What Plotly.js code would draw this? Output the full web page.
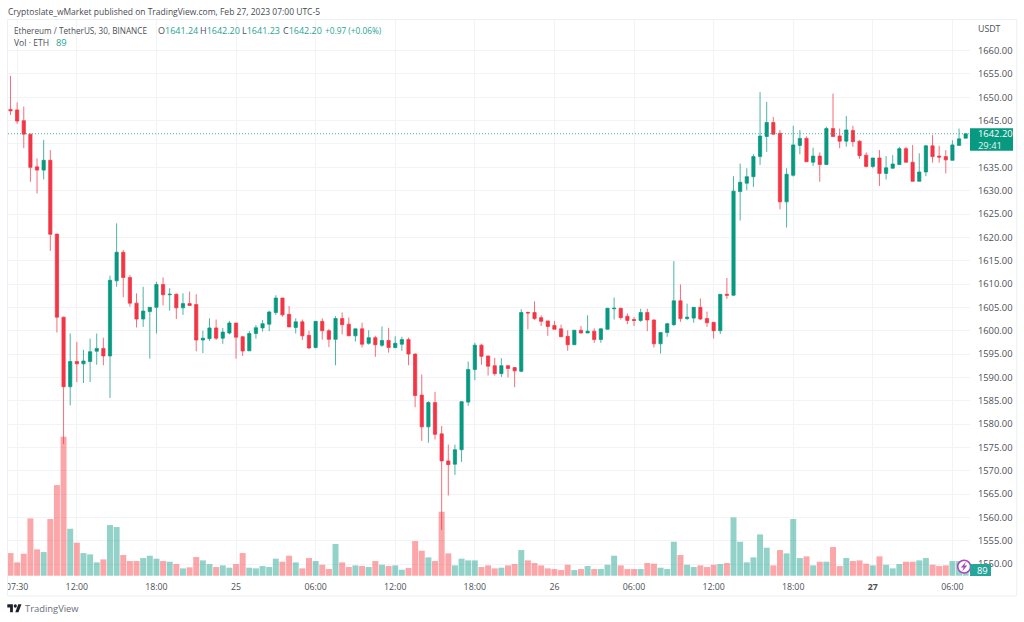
<!DOCTYPE html>
<html>
<head>
<meta charset="utf-8">
<script src="https://cdn.plot.ly/plotly-3.0.1.min.js"></script>
<style>html,body{margin:0;padding:0;background:#fff}#chart{width:1024px;height:622px}</style>
</head>
<body>
<div id="chart"></div>
<script>
const startTime = '2023-02-24T07:00:00Z';
const opens = [1647.4,1647.3,1645,1642.1,1635.1,1634.4,1636.5,1620.7,1602.9,1588,
1593.4,1592.9,1593.4,1595.6,1596.2,1594.6,1610.7,1616.8,1611.4,1605.9,
1602.5,1604.1,1605,1609.9,1607.7,1607.8,1604.9,1605.8,1605.6,1598,
1598.3,1600.6,1598.4,1599.5,1601.65,1598.7,1595.7,1599.4,1600.6,1601.4,
1603.9,1607,1603.5,1600.7,1601.9,1599,1596.4,1602,1600,1598.15,
1602.6,1601.4,1598.9,1600.4,1597.3,1598.5,1596.9,1597.9,1596.4,1597.1,
1598.1,1595,1586.2,1579.4,1584.6,1577.9,1572.1,1571.4,1574.5,1584.7,
1591.7,1596.9,1594.6,1592.5,1590.8,1592.5,1592.1,1591.3,1603.9,1603.9,
1602.8,1602.1,1601.1,1600.4,1598.8,1597,1600.1,1599.5,1599.9,1598.1,
1600.3,1604.7,1604.8,1603.1,1602.4,1602.2,1603.9,1602.3,1597.2,1599.6,
1601.3,1606.4,1602.6,1602.7,1605,1602.6,1601.8,1600,1607.8,1607.6,
1629.8,1631.6,1633,1637.3,1641.6,1644.6,1642.3,1627.6,1633.3,1639.7,
1641.2,1636.1,1637.4,1635.6,1643.3,1641.7,1640.6,1642.9,1640.6,1637.6,
1635.2,1637,1633.7,1634.8,1635.6,1639,1636.1,1632,1634,1639.6,
1637.4,1637.3,1636.5,1639.7,1641.24];
const highs = [1654.6,1648.9,1648,1642.2,1636.9,1640.9,1638.7,1620.8,1603,1599.4,
1597.6,1595.9,1598.3,1599.4,1598.5,1611.8,1623,1617.3,1611.9,1608,
1609.4,1605,1610.5,1611.4,1609.1,1608,1608,1608.4,1607.8,1600,
1602.65,1602.4,1600.6,1602.1,1601.65,1598.9,1599.9,1601.2,1602.3,1604.3,
1607.6,1607,1605.3,1602.65,1602.4,1600,1602,1602.65,1600.4,1603.1,
1603.9,1602.8,1600.4,1601.7,1600.1,1598.9,1600.9,1600.6,1598.8,1598.7,
1598.5,1595.1,1590.6,1584.9,1586.9,1579.6,1575.6,1575.6,1584.9,1593.4,
1597.4,1597.2,1594.6,1594.2,1594.1,1592.6,1592.2,1604.6,1604.1,1606.3,
1603.3,1602.1,1602.1,1601.3,1600.1,1600.1,1601,1603.3,1600.5,1600.5,
1604.9,1607.1,1604.9,1603.7,1602.9,1604.7,1604.7,1602.4,1599.6,1601.7,
1614.9,1609.9,1605.8,1605.1,1606.9,1604.1,1601.8,1607.8,1611.3,1633.1,
1635.8,1634.8,1637.8,1651.1,1649,1645.8,1643,1634.8,1643.9,1643,
1641.6,1639.2,1638.2,1643.7,1650.8,1643.3,1646,1643.9,1640.8,1638.2,
1637,1638.7,1637.4,1637.6,1639.4,1639.4,1639.8,1638,1639.8,1641.9,
1639.6,1638.7,1640.8,1643.3,1642.2];
const lows = [1646.2,1644.3,1639.1,1631.9,1629.4,1632.4,1617.1,1599.6,1575.7,1584,
1589,1588.8,1589,1592.7,1592.6,1585.6,1609.4,1607.2,1605.15,1600.7,
1600.8,1594,1599.4,1605.4,1604.3,1602.5,1603.4,1605.4,1595.6,1595.2,
1597.8,1598,1597.2,1599.2,1594,1594.6,1595.6,1598.3,1599.8,1599.9,
1603.4,1603,1600.8,1599.4,1598,1596.1,1596.2,1598.1,1596.5,1592.6,
1599.2,1598.9,1597.7,1596.4,1597,1594.4,1596.5,1595.3,1596.2,1595.7,
1592.6,1583.6,1576.4,1576,1576.7,1557.3,1564.7,1569.1,1571.9,1583.9,
1589.4,1592.7,1590.4,1590.4,1590.1,1590,1587.9,1591.1,1600.3,1602.3,
1601,1598.9,1600.3,1598.7,1595.7,1597,1599.4,1599.5,1597.4,1597.4,
1600.3,1602.4,1602.4,1601.4,1601,1601.9,1599.9,1596.4,1595.1,1598.7,
1601,1601.9,1602.3,1601.7,1602.3,1600.8,1598.3,1599.3,1606.8,1607.4,
1623.6,1630.1,1630.8,1635.5,1638.3,1641.9,1626,1622.1,1633,1637.8,
1636.2,1635.3,1631.9,1635.5,1641.6,1639.1,1639.4,1639.4,1636.8,1635,
1634.8,1631,1632.4,1634.8,1635.5,1636,1632,1632,1633.1,1636,
1636,1633.7,1636.5,1639.7,1641.23];
const closes = [1647.1,1644.9,1642.1,1635,1634.4,1636.5,1620.65,1602.9,1588,1593.4,
1592.9,1593.5,1595.5,1596.2,1594.6,1610.8,1616.8,1611.4,1605.9,1602.5,
1604.2,1605,1609.9,1607.7,1607.8,1604.9,1605.8,1605.4,1598,1598.4,
1600.6,1598.4,1599.7,1601.65,1598.6,1595.65,1599.4,1600.65,1601.5,1604,
1607,1603.4,1600.8,1601.9,1598.9,1596.3,1602,1600,1598.15,1602.6,
1601.3,1598.9,1600.4,1597.1,1598.5,1597,1597.9,1596.4,1597.3,1598.1,
1595,1586.1,1579.4,1584.6,1577.8,1572.1,1571.3,1574.5,1584.8,1591.7,
1596.9,1594.5,1592.4,1590.8,1592.5,1591.9,1591.4,1603.9,1603.8,1602.6,
1602,1600.9,1600.3,1598.7,1597,1600.1,1599.5,1599.9,1598.1,1600.4,
1604.8,1604.8,1602.8,1602.2,1602.2,1603.9,1602.3,1597.2,1599.6,1601.5,
1606.4,1602.6,1602.9,1605,1602.5,1601.7,1600,1607.8,1607.6,1629.9,
1631.8,1633,1637.3,1641.7,1644.6,1642.1,1627.6,1633.5,1639.8,1641.2,
1636.2,1637.4,1635.6,1643.3,1641.6,1640.6,1643,1640.5,1637.5,1635.2,
1637,1633.7,1634.9,1635.7,1639,1636.1,1632,1634,1639.6,1637.3,
1637.2,1636.6,1639.8,1641.1,1642.2];
const volumes = [340,200,330,860,395,355,850,1360,2085,705,
495,340,320,200,245,760,730,310,220,220,
265,300,255,220,210,175,110,125,280,230,
175,130,155,120,175,340,120,110,145,130,
255,210,300,200,110,265,220,165,100,475,
200,130,155,145,130,220,165,145,155,90,
115,520,375,275,220,960,335,155,255,230,
230,130,155,110,120,155,175,385,230,190,
155,110,100,85,165,85,100,145,100,100,
165,300,155,100,100,100,190,180,120,100,
510,310,165,130,155,130,165,175,190,875,
510,200,275,620,420,155,385,335,850,265,
290,155,210,210,430,145,265,220,230,180,
155,290,165,110,175,210,210,230,265,165,
145,155,220,220,89];
const xTickIndex = [1,10,22,34,46,58,70,82,94,106,118,130,142];
const xTickText = ['07:30','12:00','18:00','25','06:00','12:00','18:00','26','06:00','12:00','18:00','<b>27</b>','06:00'];
const priceTicks = [1550,1555,1560,1565,1570,1575,1580,1585,1590,1595,1600,1605,1610,1615,1620,1625,1630,1635,1640,1645,1650,1655,1660];

const GREEN = '#089981', RED = '#F23645', TEXT = '#4c4f57', TEAL = '#26a592';
const FONT = '"Open Sans", "Noto Sans", sans-serif';
const FS = 8.8, FS_WORDS = 8.2, FS_NUM = 9.4;
const t0 = Date.parse(startTime);
const timeAt = k => new Date(t0 + k * 1800000).toISOString().slice(0, 19);
const times = opens.map((_, k) => timeAt(k));
const barColors = opens.map((o, k) => closes[k] >= o ? 'rgba(8,153,129,0.44)' : 'rgba(247,70,75,0.48)');

const L = 8, R = 970, T = 20, B = 576;
const px = x => (x - L) / (R - L);
const py = y => (B - y) / (B - T);
const note = (x, y, text, size, color, extra) => Object.assign({
  xref: 'paper', yref: 'paper', x: px(x), y: py(y), text: text, showarrow: false,
  xanchor: 'left', yanchor: 'middle', align: 'left', borderpad: 0,
  font: {family: FONT, size: size, color: color}
}, extra || {});
const vals = (label, v) => `<span style="color:${TEXT}">${label}</span><span style="color:${TEAL}">${v}</span>`;
const rect = (x0, y0, x1, y1, fill, line) => ({
  type: 'rect', xref: 'paper', yref: 'paper', x0: px(x0), x1: px(x1), y0: py(y1), y1: py(y0),
  fillcolor: fill, line: line || {width: 0}, layer: 'above'
});
const pathOf = (pts) => 'M' + pts.map(p => px(p[0]).toFixed(5) + ',' + py(p[1]).toFixed(5)).join('L') + 'Z';
const pshape = (pts, fill, line) => ({type: 'path', xref: 'paper', yref: 'paper', path: pathOf(pts),
  fillcolor: fill, line: line || {width: 0}, layer: 'above'});
const lx = X => 7.3 + 0.4 * X, ly = Y => 604.3 + (Y - 4) * 0.44;

const shapes = [
  rect(-1, 576, 7.5, 596, '#ffffff'),
  rect(7.5, 19.5, 1016.7, 596, 'rgba(0,0,0,0)', {color: '#eef0f5', width: 1}),
  {type: 'line', xref: 'paper', yref: 'y2', x0: 0, x1: 1, y0: closes[closes.length - 1], y1: closes[closes.length - 1],
   line: {color: '#26a69a', width: 1, dash: '1px,2px'}, layer: 'above', opacity: 0.85},
  {type: 'circle', xref: 'paper', yref: 'paper', x0: px(957.7), x1: px(970.6), y0: py(573), y1: py(560.2),
   fillcolor: '#ffffff', line: {color: '#ab47bc', width: 1.6}, layer: 'above'},
  pshape([[966,561.8],[960.8,567.5],[963.6,567.5],[962.2,571.6],[967.2,565.6],[964.4,565.6]], '#ab47bc'),
  rect(970, 128.3, 1013, 150.7, GREEN),
  rect(970, 564, 991, 576, '#26a69a'),
  pshape([[lx(14),ly(22)],[lx(7),ly(22)],[lx(7),ly(11)],[lx(0),ly(11)],[lx(0),ly(4)],[lx(14),ly(4)]], '#1e222d'),
  pshape([[lx(28),ly(22)],[lx(20),ly(22)],[lx(27.5),ly(4)],[lx(35.5),ly(4)]], '#1e222d'),
  {type: 'circle', xref: 'paper', yref: 'paper', x0: px(lx(16)), x1: px(lx(24)), y0: py(ly(12)), y1: py(ly(4)), fillcolor: '#1e222d', line: {width: 0}, layer: 'above'}
];

const annotations = [
  note(7, 11, 'Cryptoslate_wMarket published on TradingView.com, Feb 27, 2023 07:00 UTC-5', 8.5, '#484b52'),
  note(13, 30.5, 'Ethereum / TetherUS, 30, BINANCE', FS_WORDS, TEXT),
  note(157, 30.5, vals('O', '1641.24'), FS_NUM - 0.4, TEXT),
  note(199, 30.5, vals('H', '1642.20'), FS_NUM - 0.4, TEXT),
  note(241, 30.5, vals('L', '1641.23'), FS_NUM - 0.4, TEXT),
  note(282, 30.5, vals('C', '1642.20'), FS_NUM - 0.4, TEXT),
  note(324, 30.5, '+0.97 (+0.06%)', 8.3, TEAL),
  note(13, 43, 'Vol · ETH', 8.6, TEXT),
  note(55, 43, '89', FS_NUM, TEAL),
  note(977, 29, 'USDT', FS, TEXT),
  note(977, 134, '1642.20', FS_NUM, '#ffffff'),
  note(977, 145, '29:41', FS_NUM, '#e6f5f2'),
  note(976, 570, '89', FS_NUM, '#ffffff'),
  note(24, 608, 'TradingView', 9.4, '#6a6d78')
];

const traces = [
  {type: 'bar', x: times, y: volumes, xaxis: 'x', yaxis: 'y', marker: {color: barColors, line: {width: 0}}, hoverinfo: 'skip'},
  {type: 'candlestick', x: times, open: opens, high: highs, low: lows, close: closes, xaxis: 'x', yaxis: 'y2', whiskerwidth: 0,
   increasing: {line: {color: 'rgba(8,153,129,0.72)', width: 1}, fillcolor: GREEN},
   decreasing: {line: {color: 'rgba(242,54,69,0.72)', width: 1}, fillcolor: RED}}
];

const layout = {
  width: 1024, height: 622, paper_bgcolor: '#ffffff', plot_bgcolor: '#ffffff',
  margin: {l: L, r: 1024 - R, t: T, b: 622 - B, pad: 0},
  showlegend: false, bargap: 0.1, boxgap: 0.3, dragmode: false,
  font: {family: FONT, size: FS, color: TEXT},
  xaxis: {type: 'date', range: [timeAt(-0.377), timeAt(144.65)], tickmode: 'array',
    tickvals: xTickIndex.map(timeAt), ticktext: xTickText, ticks: '', tickangle: 0,
    showgrid: true, gridcolor: '#f2f3f7', gridwidth: 1, zeroline: false, showline: false,
    rangeslider: {visible: false}, tickfont: {family: FONT, size: FS, color: TEXT}, ticklabelstandoff: 4},
  yaxis: {range: [-4.5, 8340], showticklabels: false, showgrid: false, zeroline: false, showline: false, ticks: ''},
  yaxis2: {overlaying: 'y', side: 'right', range: [1547.45, 1666.56], tickmode: 'array', tickvals: priceTicks,
    tickformat: '.2f', showgrid: true, gridcolor: '#f2f3f7', gridwidth: 1, zeroline: false, showline: false,
    ticks: 'outside', ticklen: 5, tickcolor: 'rgba(0,0,0,0)', tickfont: {family: FONT, size: FS_NUM, color: TEXT}},
  shapes: shapes, annotations: annotations
};

Plotly.newPlot('chart', traces, layout, {displayModeBar: false, staticPlot: true});
</script>
</body>
</html>
